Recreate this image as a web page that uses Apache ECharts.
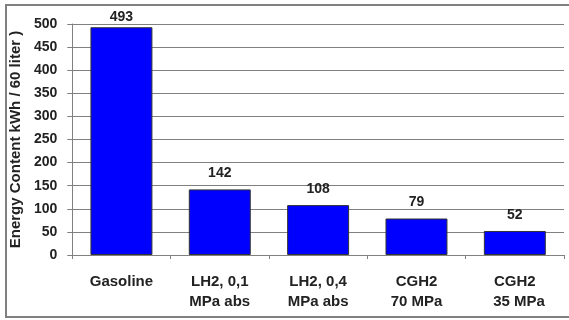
<!DOCTYPE html>
<html>
<head>
<meta charset="utf-8">
<script src="https://cdn.jsdelivr.net/npm/echarts@6/dist/echarts.min.js"></script>
<style>
  html, body { margin: 0; padding: 0; background: #fff; }
  #chart { width: 569px; height: 320px; }
</style>
</head>
<body>
<div id="chart"></div>
<script>
// Energy stored in a 60 litre tank, by fuel / storage form
const categories = ['Gasoline', 'LH2, 0,1\nMPa abs', 'LH2, 0,4\nMPa abs', 'CGH2\n70 MPa', 'CGH2\n  35 MPa'];
const energyKWh = [493, 142, 108, 79, 52];
const yTicks = { min: 0, max: 500, interval: 50 };

const chart = echarts.init(document.getElementById('chart'), null, { renderer: 'canvas' });
const font = 'Liberation Sans, Arial, sans-serif';

// The tallest bar reaches the top of the plot, so its value label sits closer to it
const barData = energyKWh.map(v => v >= yTicks.max - 20
  ? { value: v, label: { distance: 3 } }
  : v);

chart.setOption({
  animation: false,
  backgroundColor: '#ffffff',
  graphic: [{
    type: 'rect',
    shape: { x: 6, y: 5, width: 600, height: 312 },
    style: { fill: 'none', stroke: '#808080', lineWidth: 2 },
    z: -1
  }],
  grid: { left: 72, right: 5, top: 24, bottom: 65 },
  xAxis: {
    type: 'category',
    data: categories,
    axisLine: { lineStyle: { color: '#808080', width: 1 } },
    axisTick: { show: true, length: 4, lineStyle: { color: '#808080' } },
    axisLabel: {
      color: '#222', fontFamily: font, fontWeight: 'bold', fontSize: 15,
      lineHeight: 20, margin: 17, interval: 0
    }
  },
  yAxis: {
    type: 'value',
    min: yTicks.min, max: yTicks.max, interval: yTicks.interval,
    name: 'Energy Content kWh / 60 liter )',
    nameLocation: 'middle',
    nameGap: 48,
    nameTextStyle: { color: '#222', fontFamily: font, fontWeight: 'bold', fontSize: 15 },
    axisLine: { show: true, lineStyle: { color: '#808080', width: 1 } },
    axisTick: { show: true, length: 5, lineStyle: { color: '#808080' } },
    axisLabel: { color: '#222', fontFamily: font, fontWeight: 'bold', fontSize: 14, margin: 15 },
    splitLine: { show: true, lineStyle: { color: '#808080', width: 1 } }
  },
  series: [{
    type: 'bar',
    data: barData,
    barWidth: '63%',
    itemStyle: { color: '#0000ff', borderColor: '#333333', borderWidth: 1 },
    label: {
      show: true, position: 'top', distance: 9,
      color: '#222', fontFamily: font, fontWeight: 'bold', fontSize: 14
    }
  }]
});
</script>
</body>
</html>
